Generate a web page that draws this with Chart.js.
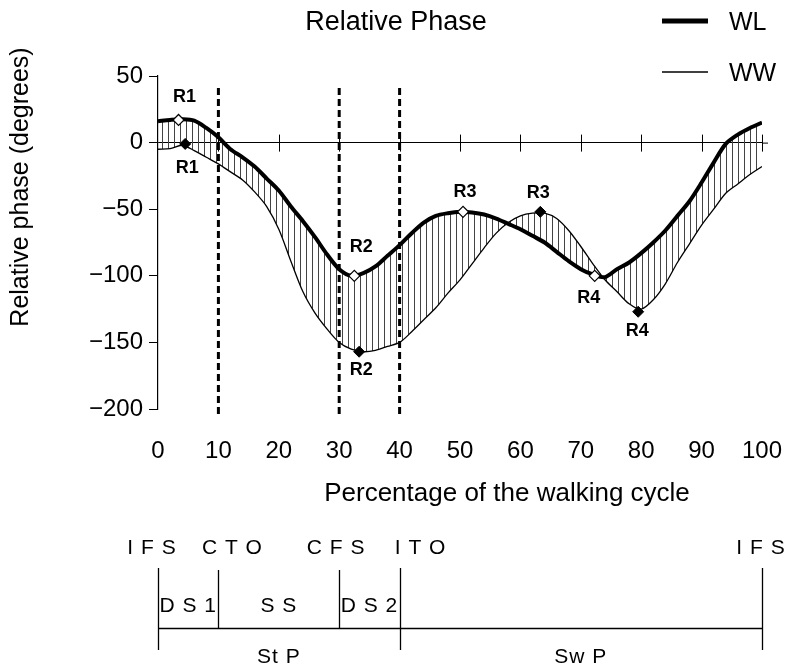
<!DOCTYPE html>
<html lang="en">
<head>
<meta charset="UTF-8" />
<title>Relative Phase</title>
<script src="https://cdn.jsdelivr.net/npm/chart.js@4.4.0/dist/chart.umd.min.js"></script>
<style>
  html, body { margin: 0; padding: 0; background: #fff; }
  #wrap { width: 789px; height: 668px; }
</style>
</head>
<body>
<div id="wrap"><canvas id="chart" width="789" height="668"></canvas></div>
<script>
// percentage of the walking cycle
const cycle = [0, 2, 4, 6, 8, 10, 12, 14, 16, 18, 20, 22, 24, 26, 28, 30, 32, 34, 36, 38, 40,
  42, 44, 46, 48, 50, 52, 54, 56, 58, 60, 62, 64, 66, 68, 70, 72, 74, 76, 78, 80,
  82, 84, 86, 88, 90, 92, 94, 96, 98, 100];

// relative phase (degrees)
const wl = [16, 17, 17.5, 16.5, 11, 4, -5, -11, -18, -27, -36, -48, -59, -71, -84, -95, -100, -98, -93, -85, -77,
  -68, -60, -55, -53, -52, -52.5, -54, -57, -61, -65, -70, -75, -82, -89, -95, -99, -101, -95, -90, -83,
  -75, -66, -55, -44, -30, -15, -1, 6, 11, 15];
const ww = [-5, -4.5, -2, -6, -11, -16, -22, -28, -37, -48, -65, -89, -112, -128, -140, -150, -155, -157, -156, -153, -150,
  -142, -133, -124, -113, -103, -91, -79, -68, -60, -55, -53, -53, -57, -66, -78, -91, -103, -112, -121, -125,
  -118, -106, -90, -76, -62, -50, -38, -31, -24, -18];

// key points R1..R4
const keyLabels = ['R1', 'R2', 'R3', 'R4'];
const wlKeyX = [3.4, 32.5, 50.5, 72.3];
const wlKeyY = [17, -100, -52, -100];
const wwKeyX = [4.5, 33.3, 63.3, 79.5];
const wwKeyY = [-1, -157, -52, -127];

// gait events and phases
const phaseLines = [10, 30, 40];
const eventLabels = ['I F S', 'C T O', 'C F S', 'I T O', 'I F S'];
const eventAt = [0, 10, 30, 40, 100];
const subPhases = ['D S 1', 'S S', 'D S 2'];
const subFrom = [0, 10, 30];
const subTo = [10, 30, 40];
const mainPhases = ['St P', 'Sw P'];
const mainFrom = [0, 40];
const mainTo = [40, 100];

const FONT = '"Liberation Sans", Arial, sans-serif';
Chart.defaults.font.family = FONT;
Chart.defaults.color = '#000';

const canvas = document.getElementById('chart');
const ctx0 = canvas.getContext('2d');

function hatch() {
  const c = document.createElement('canvas');
  c.width = 6; c.height = 6;
  const g = c.getContext('2d');
  g.strokeStyle = '#444';
  g.lineWidth = 1;
  g.beginPath(); g.moveTo(0.5, 0); g.lineTo(0.5, 6); g.stroke();
  return ctx0.createPattern(c, 'repeat');
}

function pts(xs, ys) {
  return xs.map((x, i) => ({ x: x, y: ys[i] }));
}

const minus = (v) => String(v).replace('-', '\u2212');

// zero line ticks, dashed phase lines, texts and gait diagram
const decor = {
  id: 'decor',
  beforeDatasetsDraw(chart) {
    const { ctx, scales: { x, y } } = chart;
    const y0 = y.getPixelForValue(0);
    ctx.save();
    ctx.strokeStyle = '#000';
    ctx.lineWidth = 1;
    ctx.beginPath();
    ctx.moveTo(chart.chartArea.right, y0 + 0.5);
    ctx.lineTo(chart.chartArea.right + 6, y0 + 0.5);
    x.ticks.forEach((t) => {
      if (t.value === 0) return;
      const px = Math.round(x.getPixelForValue(t.value)) + 0.5;
      ctx.moveTo(px, y0 - 8);
      ctx.lineTo(px, y0 + 9);
    });
    ctx.stroke();
    ctx.restore();
  },
  afterDatasetsDraw(chart) {
    const { ctx, scales: { x, y } } = chart;
    ctx.save();
    ctx.strokeStyle = '#000';
    ctx.lineWidth = 3;
    ctx.setLineDash([7, 4]);
    phaseLines.forEach((v) => {
      const px = x.getPixelForValue(v);
      ctx.beginPath();
      ctx.moveTo(px, 88);
      ctx.lineTo(px, 418);
      ctx.stroke();
    });
    ctx.setLineDash([]);

    // R labels
    ctx.font = 'bold 18px ' + FONT;
    ctx.fillStyle = '#000';
    ctx.textAlign = 'center';
    ctx.textBaseline = 'middle';
    const wlOff = [[6, -23], [7, -29], [2, -20], [-6, 22]];
    const wwOff = [[2, 24], [2, 18], [-2, -19], [-1, 19]];
    const mA = chart.getDatasetMeta(2).data;
    const mB = chart.getDatasetMeta(3).data;
    keyLabels.forEach((l, i) => {
      ctx.fillText(l, mA[i].x + wlOff[i][0], mA[i].y + wlOff[i][1]);
      ctx.fillText(l, mB[i].x + wwOff[i][0], mB[i].y + wwOff[i][1]);
    });

    // titles
    ctx.font = '27px ' + FONT;
    ctx.fillText('Relative Phase', 396, 23);
    ctx.font = '26px ' + FONT;
    ctx.fillText('Percentage of the walking cycle', 507, 494);
    ctx.save();
    ctx.translate(21, 187);
    ctx.rotate(-Math.PI / 2);
    ctx.font = '25px ' + FONT;
    ctx.fillText('Relative phase (degrees)', 0, 0);
    ctx.restore();

    // legend
    const sets = chart.data.datasets;
    [0, 1].forEach((d, i) => {
      const ly = 21 + i * 51;
      ctx.strokeStyle = sets[d].borderColor;
      ctx.lineWidth = sets[d].borderWidth + (i === 0 ? 1 : 0);
      ctx.beginPath();
      ctx.moveTo(662, ly);
      ctx.lineTo(708, ly);
      ctx.stroke();
      ctx.textAlign = 'left';
      ctx.font = '25px ' + FONT;
      ctx.fillText(sets[d].label, 729, ly + 2);
    });

    // gait diagram
    ctx.strokeStyle = '#000';
    ctx.lineWidth = 1.3;
    ctx.beginPath();
    eventAt.forEach((v) => {
      const px = Math.round(x.getPixelForValue(v)) + 0.5;
      const tall = v === 0 || v === 40 || v === 100;
      ctx.moveTo(px, tall ? 568 : 570);
      ctx.lineTo(px, tall ? 650 : 628);
    });
    ctx.moveTo(x.getPixelForValue(0), 628.5);
    ctx.lineTo(x.getPixelForValue(100), 628.5);
    ctx.stroke();

    ctx.textAlign = 'center';
    ctx.font = '21px ' + FONT;
    ctx.letterSpacing = '1px';
    const nudge = [-6, 14, -3, 21, -1];
    eventLabels.forEach((l, i) => {
      ctx.fillText(l, x.getPixelForValue(eventAt[i]) + nudge[i], 548);
    });
    subPhases.forEach((l, i) => {
      ctx.fillText(l, (x.getPixelForValue(subFrom[i]) + x.getPixelForValue(subTo[i])) / 2, 606);
    });
    mainPhases.forEach((l, i) => {
      ctx.fillText(l, (x.getPixelForValue(mainFrom[i]) + x.getPixelForValue(mainTo[i])) / 2, 657);
    });
    ctx.restore();
  }
};

const chart = new Chart(canvas, {
  type: 'line',
  data: {
    datasets: [
      {
        label: 'WL',
        data: pts(cycle, wl),
        borderColor: '#000',
        borderWidth: 4,
        pointRadius: 0,
        tension: 0.3,
        fill: false,
        order: 1
      },
      {
        label: 'WW',
        data: pts(cycle, ww),
        borderColor: '#000',
        borderWidth: 1.3,
        pointRadius: 0,
        tension: 0.3,
        fill: { target: 0 },
        backgroundColor: hatch(),
        order: 1
      },
      {
        label: 'WL key',
        data: pts(wlKeyX, wlKeyY),
        showLine: false,
        pointStyle: 'rectRot',
        pointRadius: 5.5,
        pointBackgroundColor: '#fff',
        pointBorderColor: '#000',
        pointBorderWidth: 1.2,
        order: 0
      },
      {
        label: 'WW key',
        data: pts(wwKeyX, wwKeyY),
        showLine: false,
        pointStyle: 'rectRot',
        pointRadius: 5.5,
        pointBackgroundColor: '#000',
        pointBorderColor: '#000',
        pointBorderWidth: 1,
        order: 0
      }
    ]
  },
  options: {
    responsive: false,
    animation: false,
    layout: { padding: { top: 76, right: 27, bottom: 189, left: 0 } },
    plugins: {
      legend: { display: false },
      tooltip: { enabled: false }
    },
    scales: {
      x: {
        type: 'linear',
        min: 0,
        max: 100,
        afterFit: (s) => { s.height = 70; },
        ticks: { stepSize: 10, padding: 0, font: { size: 24 }, color: '#000' },
        grid: { display: false, drawTicks: true, tickLength: 28 },
        border: { display: false }
      },
      y: {
        min: -200,
        max: 50,
        afterFit: (s) => { s.width = 158; },
        ticks: { stepSize: 50, padding: 6, font: { size: 24 }, color: '#000', callback: (v) => minus(v) },
        grid: {
          color: (c) => (c.tick && c.tick.value === 0 ? '#000' : 'rgba(0,0,0,0)'),
          tickColor: '#000',
          tickLength: 9,
          lineWidth: 1
        },
        border: { display: true, color: '#000', width: 1.2 }
      }
    }
  },
  plugins: [decor]
});
</script>
</body>
</html>
